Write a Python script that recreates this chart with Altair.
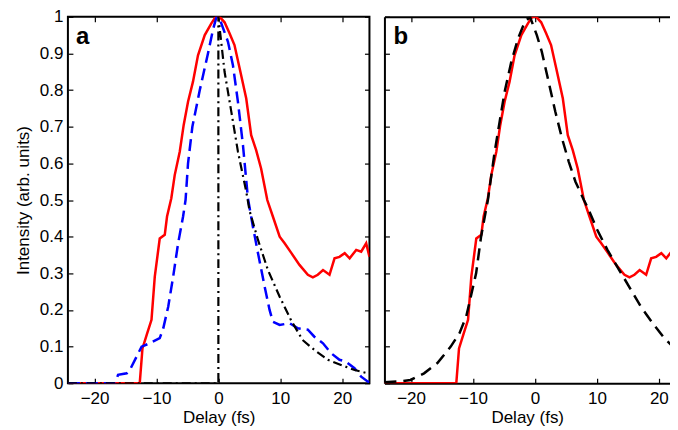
import altair as alt
import pandas as pd

# ---------------- data ----------------
# measured red curve (shown in both panels)
red_x = [-24.3, -12.7, -12.26, -11.5, -10.8, -10.27, -9.47, -8.66, -8.29, -7.6, -7.05, -6.24,
         -5.6, -4.9, -4.1, -3.29, -2.2, -1.13, -0.43, 0.2, 1.0, 1.8, 2.6, 3.44, 4.5, 5.3, 6.1,
         6.9, 7.9, 8.8, 9.9, 10.7, 11.8, 13.1, 14.45, 15.26, 16.06, 16.9, 17.95, 18.76, 19.56,
         20.4, 21.2, 22.26, 23.06, 23.87, 24.4]
red_y = [0.0, 0.0, 0.095, 0.136, 0.173, 0.291, 0.395, 0.405, 0.455, 0.505, 0.568, 0.632,
         0.705, 0.768, 0.823, 0.895, 0.95, 0.982, 1.0, 1.0, 0.985, 0.955, 0.923, 0.859, 0.777,
         0.677, 0.636, 0.586, 0.50, 0.455, 0.40, 0.382, 0.355, 0.323, 0.296, 0.289, 0.296,
         0.309, 0.296, 0.341, 0.345, 0.355, 0.341, 0.364, 0.359, 0.382, 0.345]

# blue dashed curve (panel a)
blue_x = [-24.3, -16.7, -16.2, -14.8, -14.3, -12.4, -11.1, -9.47, -8.9, -8.1, -7.3, -6.5,
          -5.7, -5.3, -4.9, -4.2, -3.0, -1.68, -0.87, -0.3, 0.2, 1.55, 2.35, 3.16, 3.97, 4.77,
          5.58, 6.4, 7.47, 8.27, 8.8, 9.9, 11.5, 12.84, 14.45, 15.5, 16.9, 18.2, 19.56, 20.6,
          21.98, 23.06, 24.1, 24.4]
blue_y = [0.0, 0.0, 0.023, 0.027, 0.036, 0.10, 0.109, 0.123, 0.15, 0.209, 0.291, 0.382,
          0.455, 0.50, 0.60, 0.70, 0.80, 0.90, 0.965, 1.0, 0.995, 0.932, 0.868, 0.768, 0.65,
          0.505, 0.427, 0.355, 0.264, 0.20, 0.168, 0.159, 0.164, 0.15, 0.146, 0.127, 0.109,
          0.082, 0.064, 0.059, 0.041, 0.018, 0.005, 0.003]

# black dash-dot curve (panel a)
dd_x = [-24.3, 0.0, 0.0, 1.0, 2.1, 3.16, 4.5, 5.05, 6.4, 8.0, 9.9, 11.8, 13.6, 15.5, 17.7,
        19.8, 22.0, 24.4]
dd_y = [0.0, 0.0, 1.0, 0.85, 0.74, 0.632, 0.523, 0.47, 0.391, 0.309, 0.236, 0.17, 0.118,
        0.091, 0.064, 0.05, 0.036, 0.026]

# black dashed curve (panel b)
fit_x = [-24.3, -21.7, -20.1, -17.9, -15.75, -13.6, -12.2, -11.1, -10.6, -9.5, -8.7, -7.6,
         -6.5, -5.7, -4.9, -3.82, -2.73, -1.64, -0.8, 0.3, 1.1, 2.2, 3.29, 4.37, 5.45, 6.54,
         7.9, 8.44, 10.07, 11.7, 13.6, 15.5, 17.1, 19.0, 20.9, 23.1, 24.4]
fit_y = [0.003, 0.005, 0.009, 0.027, 0.055, 0.10, 0.136, 0.182, 0.218, 0.30, 0.40, 0.50,
         0.632, 0.714, 0.795, 0.877, 0.941, 0.986, 1.0, 0.95, 0.905, 0.823, 0.741, 0.668,
         0.605, 0.55, 0.50, 0.482, 0.418, 0.364, 0.309, 0.255, 0.209, 0.164, 0.123, 0.086,
         0.075]

x_ticks = [-20, -10, 0, 10, 20]
y_ticks = [0, 0.1, 0.2, 0.3, 0.4, 0.5, 0.6, 0.7, 0.8, 0.9, 1.0]
x_domain_a = [-24.3, 24.4]
x_domain_b = [-24.3, 21.8]   # panel b is cut by the right edge of the picture
y_domain = [0, 1]
panel_labels = ["a", "b"]
x_title = "Delay (fs)"
y_title = "Intensity (arb. units)"

# ---------------- styling ----------------
WA, WB, H = 302, 286, 367
FONT = "Liberation Sans"
FS = 17

ysc = alt.Scale(domain=y_domain, nice=False, zero=False)


def frame(xs, ys):
    return pd.DataFrame({"t": xs, "v": ys, "i": list(range(len(xs)))})


def tick_axis(orient, offset, values, domain=False):
    return alt.Axis(orient=orient, offset=offset, values=values, labels=False,
                    domain=domain, domainColor="black", domainWidth=2, grid=False,
                    ticks=True, tickSize=5, tickWidth=1.2, tickColor="black",
                    title=None, minExtent=0)


def x_main(domain=False):
    return alt.Axis(orient="bottom", values=x_ticks, format="d", ticks=False, tickSize=0,
                    domain=domain, domainColor="black", domainWidth=2, grid=False,
                    labelPadding=7, labelFontSize=FS, labelFont=FONT, labelColor="black",
                    title=x_title, titleFontSize=FS, titleFont=FONT,
                    titleFontWeight="normal", titleColor="black", titlePadding=3)


y_main = alt.Axis(orient="left", values=y_ticks, format="~g", ticks=False, tickSize=0,
                  domain=False, grid=False, labelPadding=5, labelFontSize=FS,
                  labelFont=FONT, labelColor="black", title=y_title, titleFontSize=FS,
                  titleFont=FONT, titleFontWeight="normal", titleColor="black",
                  titlePadding=7)


def line(df, xsc, color, width, dash, xaxis, yaxis, opacity=1.0):
    kw = dict(color=color, strokeWidth=width, clip=True, strokeOpacity=opacity)
    if dash:
        kw["strokeDash"] = dash
    return alt.Chart(df).mark_line(**kw).encode(
        x=alt.X("t:Q", scale=xsc, axis=xaxis),
        y=alt.Y("v:Q", scale=ysc, axis=yaxis),
        order=alt.Order("i:Q"),
    )


def label(txt, dx):
    return alt.Chart(alt.Data(values=[{"lab": txt}])).mark_text(
        align="left", baseline="alphabetic", fontSize=24, fontWeight="bold",
        font=FONT, color="black"
    ).encode(x=alt.value(dx), y=alt.value(27), text="lab:N")


red_df = frame(red_x, red_y)
xsa = alt.Scale(domain=x_domain_a, nice=False, zero=False)
xsb = alt.Scale(domain=x_domain_b, nice=False, zero=False)

panel_a = alt.layer(
    line(red_df, xsa, "#ff0000", 2.5, None, x_main(), y_main),
    line(frame(blue_x, blue_y), xsa, "#0000ff", 2.5, [12, 6],
         tick_axis("top", -H, x_ticks), tick_axis("right", -WA, y_ticks)),
    line(frame(dd_x, dd_y), xsa, "black", 2.2, [9, 4, 2, 4],
         tick_axis("bottom", -H, x_ticks), tick_axis("left", -WA, y_ticks)),
    label(panel_labels[0], 8),
).resolve_axis(x="independent", y="independent").properties(
    width=WA, height=H, view=alt.ViewBackground(stroke="black", strokeWidth=2))

panel_b = alt.layer(
    line(red_df, xsb, "#ff0000", 2.5, None, x_main(domain=True), None),
    line(frame(fit_x, fit_y), xsb, "black", 2.5, [12, 7],
         tick_axis("top", -H, x_ticks), tick_axis("right", -WB, y_ticks, domain=True)),
    line(red_df, xsb, "#ff0000", 2.5, None,
         tick_axis("bottom", -H, x_ticks, domain=True), None, opacity=0.0),
    label(panel_labels[1], 9),
).resolve_axis(x="independent", y="independent").properties(
    width=WB, height=H, view=alt.ViewBackground(stroke=None))

chart = alt.hconcat(panel_a, panel_b, spacing=12).properties(
    padding={"left": 5, "top": -1.5, "right": 0, "bottom": 0},
    background="white",
)

chart.save("out.html", embed_options={"renderer": "svg", "actions": False})
